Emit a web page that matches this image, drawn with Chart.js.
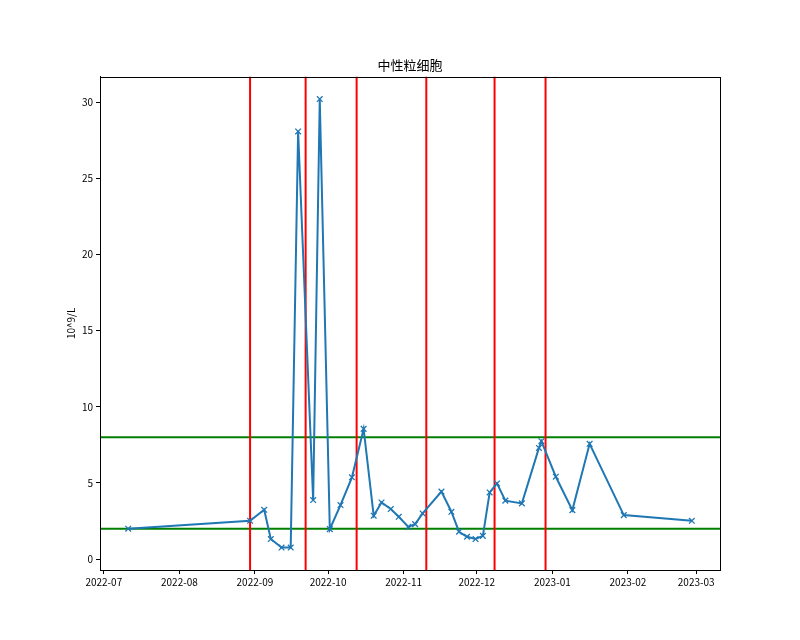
<!DOCTYPE html>
<html>
<head>
<meta charset="utf-8">
<script src="https://cdn.jsdelivr.net/npm/chart.js@4.4.0/dist/chart.umd.min.js"></script>
<style>
  body { margin: 0; background: #fff; }
</style>
</head>
<body>
<canvas id="neu" width="800" height="640"></canvas>
<script>
// sample times and neutrophil counts (10^9/L)
const dates = [
  '2022-07-11T00:00', '2022-08-30T00:00', '2022-09-04T19:00', '2022-09-07T12:00', '2022-09-11T22:00', '2022-09-15T16:00',
  '2022-09-18T17:00', '2022-09-24T21:00', '2022-09-27T14:00', '2022-10-01T17:00', '2022-10-06T02:00', '2022-10-10T19:00',
  '2022-10-15T14:00', '2022-10-19T17:00', '2022-10-22T22:00', '2022-10-26T17:00', '2022-10-30T00:00', '2022-11-02T22:00',
  '2022-11-05T17:00', '2022-11-08T19:00', '2022-11-16T12:00', '2022-11-20T14:00', '2022-11-23T17:00', '2022-11-27T00:00',
  '2022-11-30T12:00', '2022-12-03T12:00', '2022-12-06T07:00', '2022-12-09T07:00', '2022-12-12T17:00', '2022-12-19T12:00',
  '2022-12-26T12:00', '2022-12-27T12:00', '2023-01-02T10:00', '2023-01-09T05:00', '2023-01-16T07:00', '2023-01-30T07:00',
  '2023-02-27T05:00'
]
const values = [
  2.0, 2.52, 3.24, 1.32, 0.76, 0.76,
  28.07, 3.88, 30.2, 1.97, 3.55, 5.37,
  8.55, 2.85, 3.72, 3.29, 2.78, 2.12,
  2.3, 3.0, 4.43, 3.11, 1.8, 1.47,
  1.32, 1.53, 4.38, 4.97, 3.84, 3.66,
  7.3, 7.74, 5.41, 3.22, 7.57, 2.89,
  2.52
]
const redDates = ['2022-08-30T00:00', '2022-09-21T19:00', '2022-10-12T17:00', '2022-11-10T07:00', '2022-12-08T07:00', '2022-12-29T05:00']
const greenLevels = [2, 8]
const tickLabels = ['2022-07', '2022-08', '2022-09', '2022-10', '2022-11', '2022-12', '2023-01', '2023-02', '2023-03']
const yTicks = [0, 5, 10, 15, 20, 25, 30]

const base = Date.UTC(2022, 6, 1)
const toDay = s => (Date.parse(s + 'Z') - base) / 86400000

const xs = dates.map(toDay)
const tickDays = tickLabels.map(s => toDay(s + '-01T00:00'))

// matplotlib-like 5% margins
const xLo = Math.min(...xs), xHi = Math.max(...xs)
const xMin = xLo - 0.05 * (xHi - xLo), xMax = xHi + 0.05 * (xHi - xLo)
const yLo = Math.min(...values, ...greenLevels), yHi = Math.max(...values, ...greenLevels)
const yMin = yLo - 0.05 * (yHi - yLo), yMax = yHi + 0.05 * (yHi - yLo)

const font = { family: '"Noto Sans CJK SC", sans-serif', size: 10 }

const frame = {
  id: 'frame',
  afterDraw(chart) {
    const { ctx, chartArea: a } = chart
    ctx.save()
    ctx.strokeStyle = '#000'
    ctx.lineWidth = 1
    ctx.strokeRect(Math.round(a.left) + 0.5, Math.round(a.top) + 0.5,
      Math.round(a.right - a.left), Math.round(a.bottom - a.top))
    ctx.restore()
  }
}

const series = {
  data: xs.map((x, i) => ({ x: x, y: values[i] })),
  borderColor: '#1f77b4',
  backgroundColor: '#1f77b4',
  borderWidth: 2,
  pointStyle: 'crossRot',
  pointRadius: 4,
  pointBorderWidth: 1.3,
  pointBorderColor: '#1f77b4',
  tension: 0
}

const redLines = redDates.map(d => ({
  data: [{ x: toDay(d), y: yMin }, { x: toDay(d), y: yMax }],
  borderColor: '#ff0000',
  borderWidth: 2,
  pointRadius: 0
}))

const greenLines = greenLevels.map(v => ({
  data: [{ x: xMin, y: v }, { x: xMax, y: v }],
  borderColor: '#008000',
  borderWidth: 2,
  pointRadius: 0
}))

new Chart(document.getElementById('neu'), {
  type: 'line',
  data: { datasets: [series, ...redLines, ...greenLines] },
  options: {
    responsive: false,
    animation: false,
    devicePixelRatio: 1,
    layout: { padding: { left: 60, right: 80, top: 0, bottom: 40 } },
    plugins: {
      legend: { display: false },
      tooltip: { enabled: false },
      title: {
        display: true,
        text: '中性粒细胞',
        fullSize: false,
        color: '#000',
        font: { family: font.family, size: 13, weight: 'normal' },
        padding: { top: 57, bottom: 4 }
      }
    },
    scales: {
      x: {
        type: 'linear',
        min: xMin,
        max: xMax,
        afterBuildTicks: s => { s.ticks = tickDays.map(v => ({ value: v })) },
        afterFit: s => { s.height = 30 },
        ticks: {
          color: '#000',
          font: font,
          padding: 2,
          maxRotation: 0,
          autoSkip: false,
          callback: v => tickLabels[tickDays.indexOf(v)]
        },
        grid: { drawOnChartArea: false, tickLength: 4, color: '#000' },
        border: { color: '#000' }
      },
      y: {
        min: yMin,
        max: yMax,
        afterBuildTicks: s => { s.ticks = yTicks.map(v => ({ value: v })) },
        afterFit: s => { s.width = 40 },
        ticks: { color: '#000', font: font, padding: 3 },
        grid: { drawOnChartArea: false, tickLength: 4, color: '#000' },
        border: { color: '#000' },
        title: {
          display: true,
          text: '10^9/L',
          color: '#000',
          font: font,
          padding: { top: 5, bottom: 0 }
        }
      }
    }
  },
  plugins: [frame]
})
</script>
</body>
</html>
